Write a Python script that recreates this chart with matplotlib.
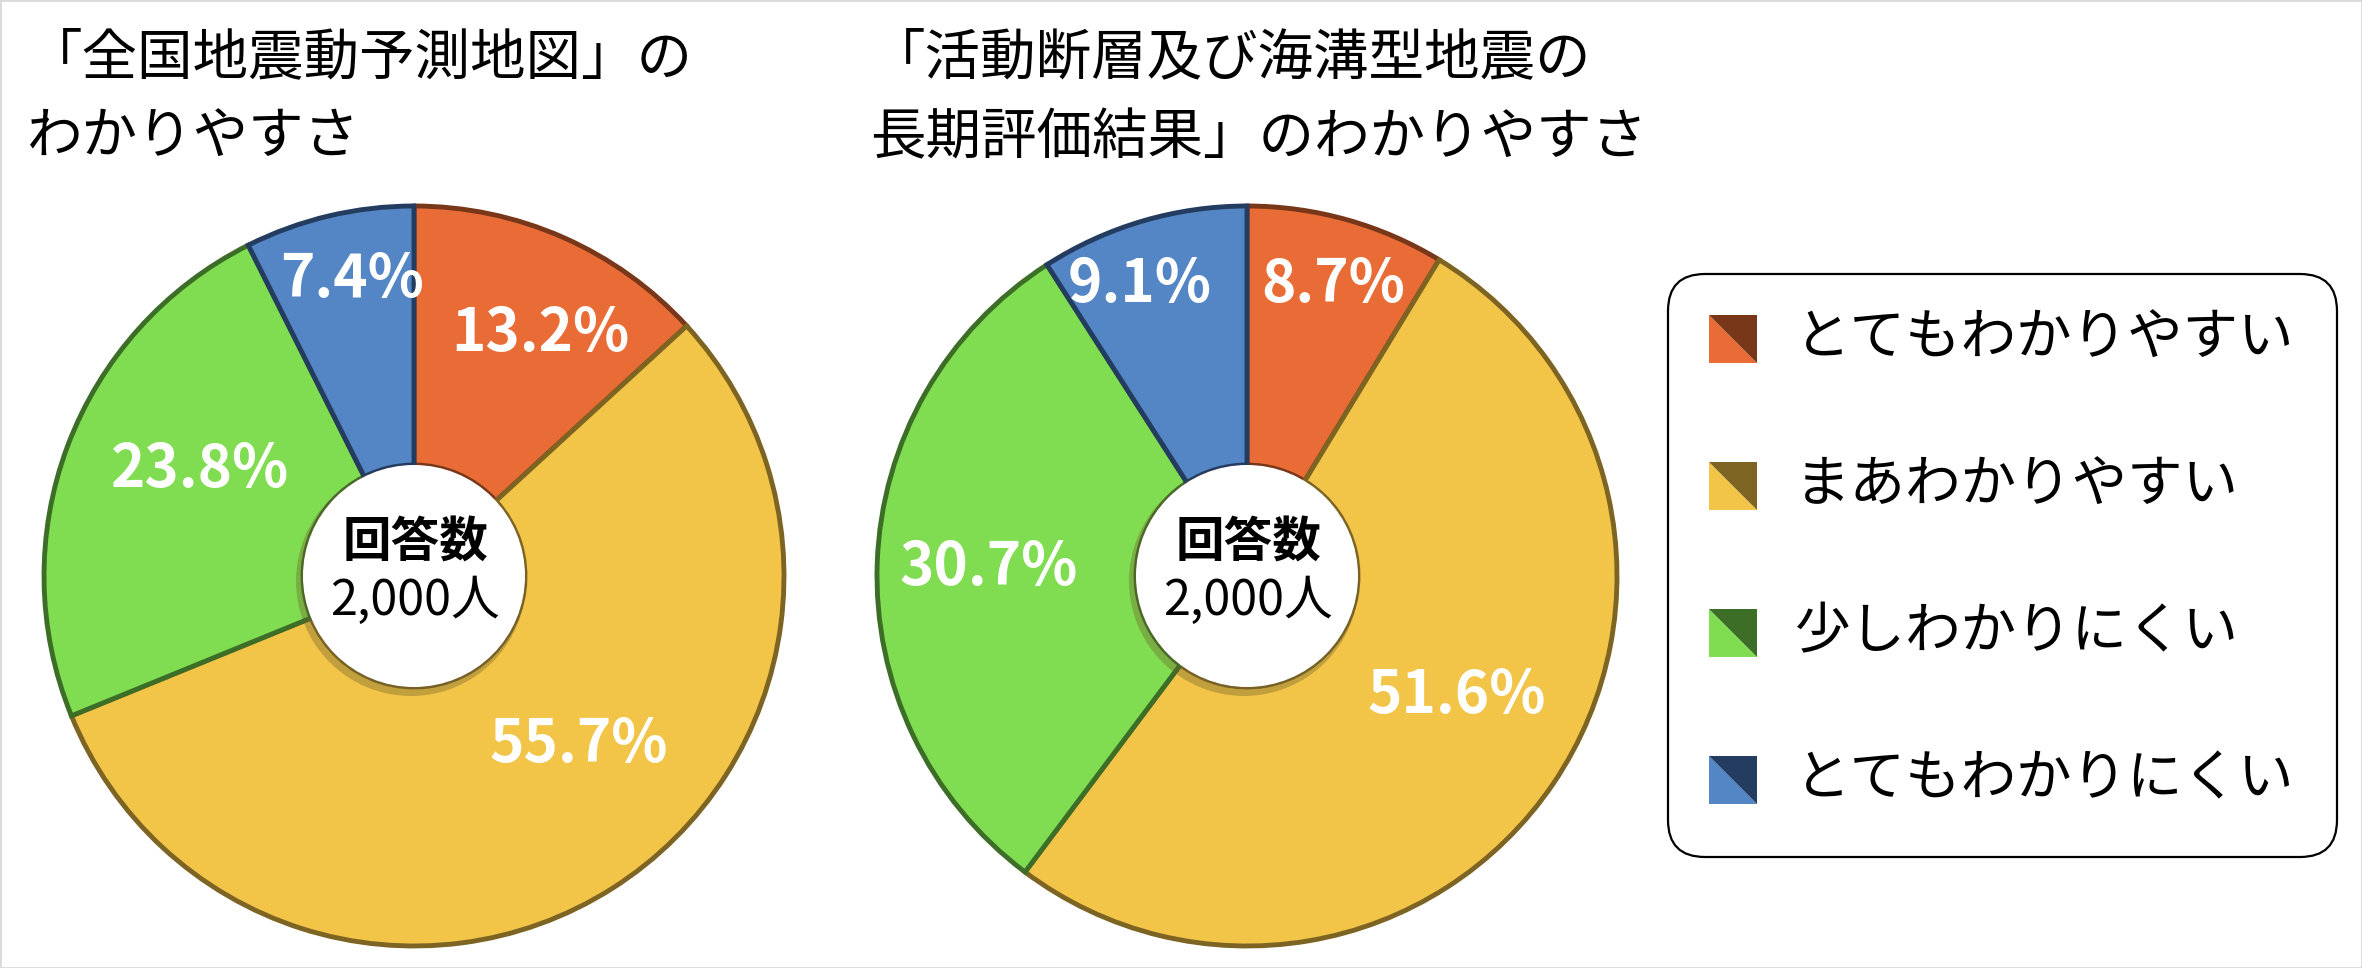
import matplotlib

matplotlib.use("Agg")
import matplotlib.pyplot as plt
from matplotlib.patches import Circle, FancyBboxPatch, Polygon, Rectangle

plt.rcParams["font.family"] = ["Noto Sans CJK JP", "DejaVu Sans"]

# data
categories = ["とてもわかりやすい", "まあわかりやすい", "少しわかりにくい", "とてもわかりにくい"]
titles = [
    "「全国地震動予測地図」の\nわかりやすさ",
    "「活動断層及び海溝型地震の\n長期評価結果」のわかりやすさ",
]
map_pct = [13.2, 55.7, 23.8, 7.4]
eval_pct = [8.7, 51.6, 30.7, 9.1]
center_title = "回答数"
center_count = "2,000人"

# styles
colors = ["#E96C37", "#F2C548", "#80DC50", "#5486C5"]
dark = ["#783719", "#7D6423", "#3C6E28", "#233C5F"]

W, H = 2362, 968
fig = plt.figure(figsize=(W / 100, H / 100), dpi=100)
ax = fig.add_axes([0, 0, 1, 1])

R = 370
HOLE = 0.30
pies = [
    # (values, centre x, centre y in image px, label offsets in units of R)
    (map_pct, 414, 576, [(0.342, 0.655), (0.445, -0.458), (-0.577, 0.286), (-0.167, 0.80)]),
    (eval_pct, 1247, 576, [(0.233, 0.786), (0.566, -0.325), (-0.699, 0.022), (-0.29, 0.786)]),
]

for values, cx, cy_img, offs in pies:
    cy = H - cy_img
    wedges, _ = ax.pie(
        values, colors=colors, startangle=90, counterclock=False,
        center=(cx, cy), radius=R, frame=True,
        wedgeprops=dict(width=R * (1 - HOLE), linewidth=3.5),
    )
    for w, c in zip(wedges, dark):
        w.set_edgecolor(c)
    for v, (ox, oy) in zip(values, offs):
        ax.text(cx + ox * R, cy + oy * R, f"{v:.1f}%", color="white",
                fontsize=42, fontweight="bold", ha="center", va="center")
    # centre hole with a soft shadow
    ax.add_patch(Circle((cx - 3, cy - 5), R * HOLE + 4, color="#6b5a2a", alpha=0.35, lw=0))
    ax.add_patch(Circle((cx, cy), R * HOLE, color="white", lw=0))
    ax.text(cx + 2, cy + 33, center_title, fontsize=35, fontweight="bold",
            ha="center", va="center")
    ax.text(cx + 1, cy - 25, center_count, fontsize=35, ha="center", va="center")

for title, x in zip(titles, [27, 870]):
    ax.text(x, H - 30, title, fontsize=40, ha="left", va="top", linespacing=1.5)

# legend
ax.add_patch(FancyBboxPatch((1668, H - 857), 669, 583,
                            boxstyle="round,pad=0,rounding_size=37",
                            facecolor="white", edgecolor="black", lw=1.6))
row_y = [339, 486, 633, 780]
s = 48
for label, c, d, y_img in zip(categories, colors, dark, row_y):
    y = H - y_img
    x0, y0 = 1709, y - s / 2
    ax.add_patch(Polygon([(x0, y0), (x0 + s, y0), (x0, y0 + s)], closed=True, color=c, lw=0))
    ax.add_patch(Polygon([(x0 + s, y0), (x0 + s, y0 + s), (x0, y0 + s)], closed=True, color=d, lw=0))
    ax.text(1795, y, label, fontsize=40, ha="left", va="center")

ax.set_xlim(0, W)
ax.set_ylim(0, H)
ax.set_aspect("equal")
ax.axis("off")
fig.add_artist(Rectangle((0, 0), 1, 1, transform=fig.transFigure, fill=False,
                         edgecolor="#d9d9d9", lw=2))
fig.savefig("out.png", dpi=100)
